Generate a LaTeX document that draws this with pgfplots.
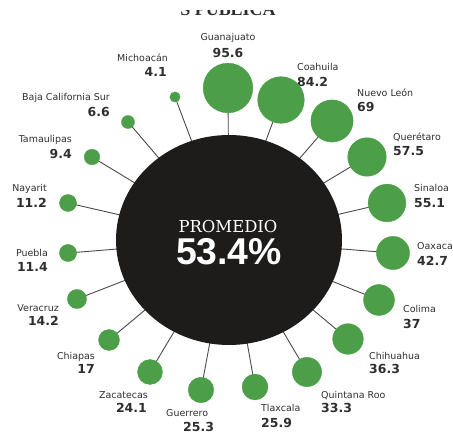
\documentclass[border=0pt]{standalone}
\usepackage{pgfplots}
\pgfplotsset{compat=1.18}
\usepackage{pgfplotstable}
\usepackage{fontspec}
\setmainfont{DejaVu Sans}
\newfontfamily\slabfont{DejaVu Serif}
\newfontfamily\titlefont{Liberation Serif}
\newfontfamily\bigsans{Liberation Sans}

\definecolor{grn}{HTML}{4C9F48}
\definecolor{blk}{HTML}{1E1B1B}
\definecolor{spk}{HTML}{4A4A4A}
\definecolor{txt}{HTML}{2E2E2E}

% value, circle centre x, circle centre y (image pixels, y downwards)
\pgfplotstableread{
v x y
95.6 228 88
84.2 281 100
69.0 332 121
57.5 367 157
55.1 387 203
42.7 393 253
37.0 379 300
36.3 348 339
33.3 307 372
25.9 255 387
25.3 201 390
24.1 150 372
17.0 109 340
14.2 77 299
11.4 68 253
11.2 68 203
9.4 92 157
6.6 128 122
4.1 175 97
}\states

\newcommand{\lab}[7]{%
  \node[anchor=#1, inner sep=0, text=txt, font=\fontsize{9.5}{10}\selectfont] at (axis cs:#2,-#3) {#6};
  \node[anchor=#1, inner sep=0, text=txt, font=\fontsize{12.5}{13}\selectfont\bfseries] at (axis cs:#4,-#5) {#7};
}

\begin{document}
\begin{tikzpicture}
\begin{axis}[at={(0,0)}, anchor=south west, scale only axis,
  width=453bp, height=434bp, xmin=0, xmax=453, ymin=-434, ymax=0,
  hide axis, clip=false]
% spokes
\addplot[spk, line width=0.9pt, quiver={u=\thisrow{x}-229, v=240-\thisrow{y}}]
  table[x expr=229, y expr=-240] {\states};
% central disc
\fill[blk] (axis cs:229,-240) ellipse [x radius=113, y radius=105];
% bubbles
\addplot[scatter, only marks, mark=*,
  mark options={draw=grn, fill=grn},
  visualization depends on={2.55*sqrt(\thisrow{v}) \as \rad},
  scatter/use mapped color={draw=grn, fill=grn},
  scatter/@pre marker code/.append style={/tikz/mark size=\rad}]
  table[x=x, y expr=-\thisrow{y}] {\states};
% centre text
\node[anchor=base, inner sep=0, text=white, font=\slabfont\fontsize{16.5}{17}\selectfont] at (axis cs:228,-233) {PROMEDIO};
\node[anchor=base, inner sep=0, text=white, font=\bigsans\fontsize{37.5}{38}\selectfont\bfseries] at (axis cs:229,-265) {53.4\%};
% labels
\lab{base}{228}{40.5}{228}{57.5}{Guanajuato}{95.6}
\lab{base west}{297}{70.5}{297}{86.5}{Coahuila}{84.2}
\lab{base east}{168}{61.5}{167}{76.5}{Michoacán}{4.1}
\lab{base west}{357}{96.5}{357}{111.5}{Nuevo León}{69}
\lab{base east}{110}{100.5}{110}{116.5}{Baja California Sur}{6.6}
\lab{base east}{72}{142.5}{72}{158.5}{Tamaulipas}{9.4}
\lab{base west}{393}{140.5}{393}{155.5}{Querétaro}{57.5}
\lab{base east}{47}{191.5}{47}{207.5}{Nayarit}{11.2}
\lab{base west}{414}{191.5}{414}{207.5}{Sinaloa}{55.1}
\lab{base east}{48}{256.5}{48}{271.5}{Puebla}{11.4}
\lab{base west}{417}{249.5}{417}{265.5}{Oaxaca}{42.7}
\lab{base east}{59}{311.5}{59}{325.5}{Veracruz}{14.2}
\lab{base west}{403}{312.5}{403}{328.5}{Colima}{37}
\lab{base east}{95}{359.5}{95}{373.5}{Chiapas}{17}
\lab{base west}{369}{359.5}{369}{373.5}{Chihuahua}{36.3}
\lab{base east}{148}{398.5}{147}{412.5}{Zacatecas}{24.1}
\lab{base west}{166}{416.5}{183}{431.5}{Guerrero}{25.3}
\lab{base west}{261}{411.5}{261}{427.5}{Tlaxcala}{25.9}
\lab{base west}{321}{398.5}{321}{412.5}{Quintana Roo}{33.3}
% cut-off title
\node[anchor=base, inner sep=0, text=txt, font=\titlefont\fontsize{18}{18}\selectfont\bfseries] at (axis cs:228,-16) {S PÚBLICA};
\end{axis}
\fill[white] (0,424bp) rectangle (453bp,434bp);
\path[use as bounding box] (0,0) rectangle (453bp,434bp);
\end{tikzpicture}
\end{document}
